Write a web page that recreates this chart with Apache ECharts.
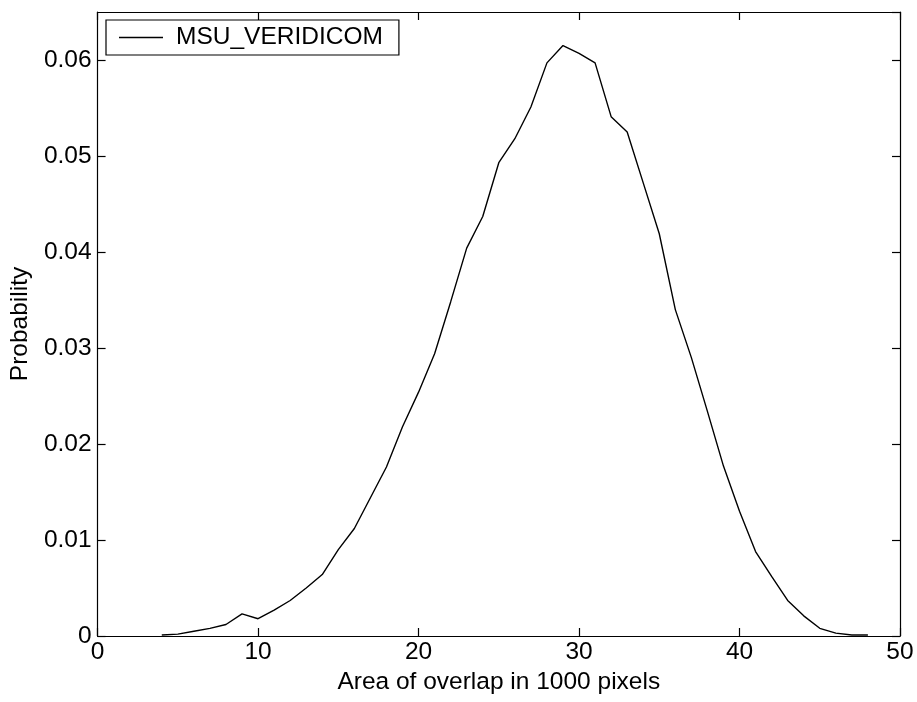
<!DOCTYPE html>
<html>
<head>
<meta charset="utf-8">
<script src="https://cdn.jsdelivr.net/npm/echarts@6/dist/echarts.min.js"></script>
<style>
  html, body { margin: 0; padding: 0; background: #fff; }
  #chart { width: 917px; height: 702px; }
</style>
</head>
<body>
<div id="chart"></div>
<script>
// Overlap area (in 1000 pixels) and its probability
const overlapArea = [4, 5, 6, 7, 8, 9, 10, 11, 12, 13, 14, 15, 16, 17, 18, 19, 20, 21, 22, 23, 24, 25, 26,
  27, 28, 29, 30, 31, 32, 33, 34, 35, 36, 37, 38, 39, 40, 41, 42, 43, 44, 45, 46, 47, 48];
const probability = [0.0001, 0.0002, 0.0005, 0.0008, 0.0012, 0.0023, 0.0018, 0.0027, 0.0037, 0.0050,
  0.0064, 0.0090, 0.0112, 0.0144, 0.0176, 0.0218, 0.0254, 0.0294, 0.0348, 0.0404, 0.0437, 0.0493,
  0.0518, 0.0551, 0.0597, 0.0615, 0.0607, 0.0597, 0.0541, 0.0525, 0.0472, 0.0419, 0.0340, 0.0290,
  0.0234, 0.0177, 0.0130, 0.0088, 0.0062, 0.0037, 0.0021, 0.0008, 0.0003, 0.0001, 0.0001];
const seriesName = 'MSU_VERIDICOM';
const xTicks = [0, 10, 20, 30, 40, 50];
const yTicks = [0, 0.01, 0.02, 0.03, 0.04, 0.05, 0.06];

const FONT = '"Liberation Sans", Arial, Helvetica, sans-serif';
const FS = 24.5;
const INK = '#000';

const points = overlapArea.map((x, i) => [x, probability[i]]);

function yLabel(v) {
  const hit = yTicks.find(t => Math.abs(t - v) < 1e-9);
  if (hit === undefined) return '';
  return hit === 0 ? '0' : hit.toFixed(2);
}
function xLabel(v) {
  const hit = xTicks.find(t => Math.abs(t - v) < 1e-9);
  return hit === undefined ? '' : String(hit);
}

// Box frame: every axis line stays on its own grid edge
const frameLine = { show: true, onZero: false, lineStyle: { color: INK, width: 1.2 } };
const innerTick = { show: true, inside: true, length: 8, lineStyle: { color: INK, width: 1.2 } };

const chart = echarts.init(document.getElementById('chart'), null, { renderer: 'canvas' });
chart.setOption({
  animation: false,
  backgroundColor: '#fff',
  textStyle: { fontFamily: FONT },
  grid: { left: 97, right: 17, top: 12, bottom: 66, containLabel: false },
  legend: {
    left: 106, top: 20,
    data: [{ name: seriesName, icon: 'rect' }],
    itemWidth: 44, itemHeight: 1.5,
    padding: [5, 16, 5, 13],
    borderColor: INK, borderWidth: 1.2, backgroundColor: '#fff',
    textStyle: { fontFamily: FONT, fontSize: FS, color: INK, padding: [0, 0, 0, 8] }
  },
  xAxis: [
    {
      type: 'value', min: 0, max: 50, interval: 10, position: 'bottom',
      name: 'Area of overlap in 1000 pixels', nameLocation: 'middle', nameGap: 31,
      nameTextStyle: { fontFamily: FONT, fontSize: FS, color: INK },
      axisLine: frameLine, axisTick: innerTick,
      axisLabel: { margin: 4, fontFamily: FONT, fontSize: FS, color: INK, formatter: xLabel },
      splitLine: { show: false }
    },
    {
      type: 'value', min: 0, max: 50, interval: 10, position: 'top',
      axisLine: frameLine, axisTick: innerTick, axisLabel: { show: false }, splitLine: { show: false }
    }
  ],
  yAxis: [
    {
      type: 'value', min: 0, max: 0.065, interval: 0.01, position: 'left',
      name: 'Probability', nameLocation: 'middle', nameGap: 54, nameRotate: 90,
      nameTextStyle: { fontFamily: FONT, fontSize: FS, color: INK },
      axisLine: frameLine, axisTick: innerTick,
      axisLabel: { margin: 6, fontFamily: FONT, fontSize: FS, color: INK, formatter: yLabel, showMaxLabel: false },
      splitLine: { show: false }
    },
    {
      type: 'value', min: 0, max: 0.065, interval: 0.01, position: 'right',
      axisLine: frameLine, axisTick: innerTick, axisLabel: { show: false }, splitLine: { show: false }
    }
  ],
  series: [
    {
      name: seriesName, type: 'line', xAxisIndex: 0, yAxisIndex: 0,
      data: points, showSymbol: false, symbol: 'none',
      lineStyle: { color: INK, width: 1.4 }, itemStyle: { color: INK }
    }
  ]
});
</script>
</body>
</html>
